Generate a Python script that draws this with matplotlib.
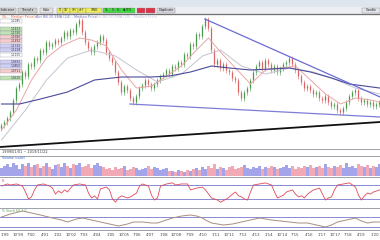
import matplotlib
matplotlib.use("Agg")
import matplotlib.pyplot as plt
from matplotlib.patches import Rectangle

W, H = 380, 240

# price closes (arbitrary price units), one candle per bar
closes = [25, 28, 32, 38, 50, 62, 66, 78, 74, 86, 84, 92, 90, 100, 98, 108, 104, 106, 110, 108,
          112, 118, 114, 120, 118, 126, 130, 118, 108, 102, 98, 104, 108, 114, 110, 98, 92, 88, 78, 68,
          58, 64, 60, 52, 48, 54, 62, 65, 70, 66, 62, 66, 70, 74, 76, 80, 76, 84, 82, 88,
          86, 96, 94, 106, 104, 116, 114, 124, 131, 122, 100, 86, 90, 82, 86, 80, 78, 72, 70, 58,
          52, 58, 62, 70, 78, 84, 88, 82, 90, 86, 80, 84, 78, 82, 86, 88, 92, 86, 80, 74,
          68, 62, 64, 60, 56, 58, 52, 50, 54, 48, 44, 46, 40, 38, 42, 48, 54, 58, 60, 52,
          48, 50, 46, 48, 44, 46, 48]

volumes = [8, 10, 12, 9, 13, 11, 7, 12, 10, 13, 9, 11, 12, 8, 10, 13, 9, 7, 11, 12,
           9, 13, 10, 8, 12, 11, 13, 9, 10, 12, 8, 11, 13, 10,
           9, 7, 8, 6, 9, 7, 8, 10, 6, 7, 9, 8, 6, 7, 8, 10, 7, 9, 8, 6, 7, 8, 5,
           5, 4, 6, 5, 4, 6, 5,
           7, 8, 6, 9, 7, 10, 8, 12, 7, 9, 8, 6, 9, 10, 7, 8, 9, 11, 8, 7,
           9, 8, 10, 7, 9, 8, 10, 9, 7, 8, 9, 11, 8, 10, 7, 9, 8, 10, 9, 11,
           8, 9, 10, 8, 12, 9, 8, 10, 9, 11, 8, 13, 9, 10, 8, 12, 10, 9, 11, 8,
           10, 9, 12]

# moving averages (bar index, price)
ma_slow_t = [0, 6, 13, 22, 31, 40, 50, 56, 63, 70, 76, 83, 96, 103, 110, 116, 126]
ma_slow_v = [46, 46, 51, 58, 70, 73, 73, 74, 78, 84, 82, 80, 82, 78, 72, 66, 62]
ma_fast_t = [0, 5, 10, 15, 20, 26, 30, 35, 40, 45, 50, 55, 60, 65, 69, 73, 78, 83, 88, 93, 98, 103, 108, 113, 118, 123, 126]
ma_fast_v = [20, 40, 70, 92, 104, 112, 110, 104, 80, 62, 64, 74, 84, 100, 112, 98, 82, 66, 80, 82, 84, 70, 56, 46, 52, 50, 48]
ma_mid_t = [0, 8, 15, 22, 30, 38, 45, 52, 60, 67, 73, 80, 88, 96, 104, 110, 118, 126]
ma_mid_v = [10, 40, 70, 92, 100, 94, 80, 68, 76, 94, 100, 84, 76, 82, 78, 72, 62, 56]

# drawn trend lines (bar index pairs, price pairs)
upper_t, upper_v = [67.8, 126.2], [131, 53]
lower_t, lower_v = [42.8, 126.2], [46, 33]
base_t, base_v = [-0.5, 126.2], [3, 28]

rsi = [(0, 67), (2, 73), (3, 70), (5, 73), (7, 67), (8, 50), (9, 30), (10, 36), (11, 56), (12, 70),
       (14, 73), (16, 67), (17, 61), (18, 44), (19, 53), (20, 47), (21, 56), (22, 50), (23, 61), (24, 70),
       (26, 73), (28, 70), (29, 47), (30, 33), (31, 39), (32, 30), (33, 59), (35, 64), (36, 56), (37, 30),
       (38, 21), (39, 33), (40, 39), (42, 33), (43, 36), (45, 47), (46, 67), (47, 73), (49, 67), (50, 41),
       (51, 27), (52, 33), (53, 67), (55, 73), (57, 76), (58, 70), (60, 73), (62, 73), (63, 56), (65, 61),
       (67, 64), (68, 56), (70, 33), (72, 27), (73, 21), (75, 30), (76, 36), (77, 44), (78, 50), (79, 39),
       (80, 36), (81, 30), (82, 27), (83, 50), (84, 70), (86, 73), (88, 76), (89, 73), (90, 70), (91, 50),
       (92, 33), (94, 41), (95, 50), (97, 56), (98, 44), (99, 36), (100, 39), (101, 33), (102, 44), (104, 56),
       (106, 61), (107, 44), (108, 27), (109, 33), (110, 36), (111, 56), (112, 70), (114, 73), (116, 76), (117, 70),
       (118, 64), (119, 41), (120, 27), (121, 39), (122, 47), (123, 44), (124, 50), (126, 56)]
rsi_t = [p[0] for p in rsi]
rsi_v = [p[1] for p in rsi]

stoch_t = [0, 3, 7, 10, 13, 17, 20, 22, 25, 27, 30, 33, 36, 39, 42, 44, 47, 50, 52, 55, 57, 60, 63, 65, 67,
           68, 70, 72, 74, 77, 80, 83, 86, 88, 90, 93, 96, 99, 102, 105, 108, 110, 112, 115, 118, 120, 122, 124, 126]
stoch_v = [12, 15, 18, 16, 14, 11, 9, 7, 10, 11, 9, 7, 5, 3, 5, 7, 7, 6, 6, 9, 11, 13, 14, 13, 11,
           9, 6, 5, 4, 5, 7, 9, 11, 10, 9, 8, 7, 6, 6, 4, 2, 4, 7, 9, 11, 8, 6, 7, 7]

date_labels = ["1'99", "10'99", "7'00", "4'01", "1'02", "10'02", "7'03", "4'04", "1'05", "10'05",
               "7'06", "4'07", "1'08", "10'08", "7'09", "4'10", "1'11", "10'11", "7'12", "4'13",
               "1'14", "10'14", "7'15", "4'16", "1'17", "10'17", "7'18", "4'19", "1'20"]

side_labels = ["1.2085", "1.1823", "1.1740", "1.1580", "1.1492", "1.1310",
               "1.1228", "1.1105", "1.0932", "1.0850", "1.0711", "1.0520"]
side_colors = ["#ffffff", "#bfe3b4", "#bfe3b4", "#f6cccc", "#f6cccc", "#cfcff4",
               "#cfcff4", "#ffffff", "#cfcff4", "#cfcff4", "#f6cccc", "#bfe3b4"]

fig = plt.figure(figsize=(W / 100, H / 100), dpi=100)
fig.patch.set_facecolor("white")


def panel(y0, y1):
    ax = fig.add_axes([0, 1 - y1 / H, 1, (y1 - y0) / H])
    ax.set_xlim(-0.5, 126.17)
    ax.axis("off")
    ax.patch.set_alpha(0)
    return ax


# price panel
ax = panel(14, 148)
ax.set_ylim(2, 136)
idx = list(range(len(closes)))
opens = [closes[0] - 3] + closes[:-1]
for i, o, c in zip(idx, opens, closes):
    col = "#4a984a" if c >= o else "#dc6464"
    lo, hi = min(o, c), max(o, c)
    ax.vlines(i, lo - 2.5, hi + 2.5, color=col, lw=0.4)
    ax.vlines(i, lo, max(hi, lo + 0.8), color=col, lw=0.9)
ax.plot(ma_mid_t, ma_mid_v, color="#c4c4d2", lw=0.7)
ax.plot(ma_fast_t, ma_fast_v, color="#eaa6a6", lw=0.7)
ax.plot(ma_slow_t, ma_slow_v, color="#4a4a9a", lw=0.8)
ax.plot(upper_t, upper_v, color="#6b6bd6", lw=0.9)
ax.plot(lower_t, lower_v, color="#7d7dd8", lw=0.9)
ax.plot(base_t, base_v, color="#111111", lw=1.3)

# volume panel
axv = panel(159, 176)
axv.set_ylim(0, 17)
vcols = ["#9a9ae8" if c >= o else "#f0a0ae" for o, c in zip(opens, closes)]
axv.bar(idx, volumes, width=0.8, color=vcols, alpha=0.9)

# RSI panel
axr = panel(177, 208)
axr.set_ylim(4.29, 92.86)
axr.axhline(70, color="#8a8ad0", lw=0.7)
axr.axhline(30, color="#8a8ad0", lw=0.7)
axr.plot(rsi_t, rsi_v, color="#e04858", lw=0.6)

# stochastic panel
axs = panel(208, 229)
axs.set_ylim(0, 21)
axs.axhline(12, color="#8a8ad0", lw=0.7)
axs.axhline(2, color="#8a8ad0", lw=0.7)
axs.plot(stoch_t, stoch_v, color="#a88e7e", lw=0.7)

# overlay in pixel coordinates for toolbar, separators and labels
ov = fig.add_axes([0, 0, 1, 1])
ov.set_xlim(0, W)
ov.set_ylim(H, 0)
ov.axis("off")
ov.patch.set_alpha(0)

ov.add_patch(Rectangle((0, 0), W, 7, color="#dfe5ec"))
ov.add_patch(Rectangle((0, 7), W, 6.5, color="#eceef2"))
ov.plot([0, W], [13.7, 13.7], color="#707070", lw=0.9)

buttons = [("Indicator", 0, 16, "#d6d6d6"), ("Trend \u25be", 18, 37, "#cfcfcf"),
           ("Hide", 40, 53, "#e2e2e2"),
           ("5'", 57, 63, "#eeee5a"), ("15'", 63, 70, "#eeee5a"), ("1H'", 70, 78, "#eeee5a"),
           ("4H'", 78, 86, "#eeee5a"), ("1WK", 86, 102, "#eeee5a"),
           ("1L", 103, 110, "#3fdc3f"), ("5", 110, 115, "#3fdc3f"), ("6", 115, 120, "#3fdc3f"),
           ("AUTO", 120, 135, "#3fdc3f"),
           ("", 137, 145, "#dd3348"), ("", 146, 155, "#dd3348"),
           ("Duplicate", 157, 175, "#d8d8e0"), ("Candle", 362, 380, "#e2e6ec")]
for lab, x0, x1, fc in buttons:
    ov.add_patch(Rectangle((x0, 7.5), x1 - x0, 5.5, facecolor=fc, edgecolor="#888888", lw=0.3))
    ov.text((x0 + x1) / 2, 10.4, lab, fontsize=2.3, ha="center", va="center", color="#222222")

ov.text(2, 16.8, "ISL - Median Price(s)", fontsize=2.5, color="#e07050", va="center")
ov.text(36, 16.8, "Kiri BB 20 EMA (24) - Median Price", fontsize=2.5, color="#7070c0", va="center")
ov.text(96, 16.8, "Kiri BB 20 EMA (20) - Median Price", fontsize=2.5, color="#c0c0e0", va="center")

row_y = [21, 29, 33, 37, 41, 46, 50, 55, 62, 66, 71, 78]
for y, lab, fc in zip(row_y, side_labels, side_colors):
    ov.add_patch(Rectangle((0, y - 1.8), 22, 3.6, facecolor=fc, edgecolor="#9090a0", lw=0.25))
    ov.text(21, y, lab, fontsize=2.1, ha="right", va="center", color="#333355")

for y in (148.5, 155.8, 176.6, 208.2, 229.5):
    ov.plot([0, W], [y, y], color="#a0a0a8", lw=0.7)
ov.text(2, 152.3, "1999/01/01 ~ 2019/11/22", fontsize=2.5, color="#333333", va="center")
ov.text(2, 158.3, "Volume (color)", fontsize=2.3, color="#3366cc", va="center")
ov.text(2, 180.5, "R", fontsize=2.3, color="#e04858", va="center")
ov.text(2, 211, "% Stoch 60 7.0", fontsize=2.3, color="#60a060", va="center")

for k, lab in enumerate(date_labels):
    ov.text(5 + 13.2 * k, 235.5, lab, fontsize=2.8, ha="center", va="center", color="#444444")

fig.savefig("out.png", dpi=100)
